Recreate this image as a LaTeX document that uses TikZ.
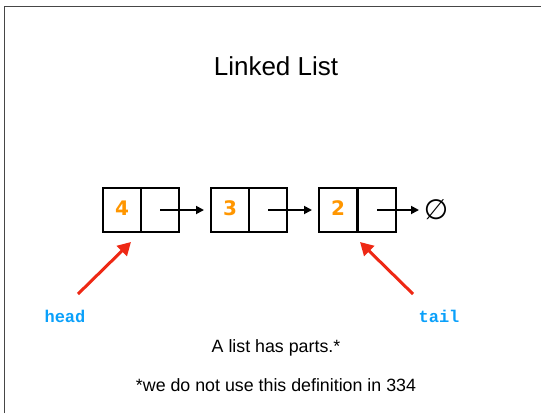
\documentclass[tikz,border=0pt]{standalone}
\usepackage{fontspec}
\setmainfont{Liberation Sans}
\newfontfamily\numfont{DejaVu Sans}
\newfontfamily\codefont{Liberation Mono}
\newfontfamily\symfont{DejaVu Sans}
\usetikzlibrary{arrows.meta}
\definecolor{numorange}{RGB}{255,150,0}
\definecolor{ptrred}{RGB}{238,40,20}
\definecolor{codeblue}{RGB}{10,160,250}
\definecolor{framegray}{RGB}{70,70,70}
\tikzset{
  cell/.style={draw, line width=2pt, minimum width=38pt, minimum height=44pt, inner sep=0pt, outer sep=0pt},
  numtext/.style={font=\numfont\bfseries\fontsize{20}{24}\selectfont, text=numorange},
  link/.style={line width=1.8pt, -{Triangle[length=8pt,width=8pt]}},
  pointer/.style={line width=3pt, ptrred, -{Triangle[length=13pt,width=14pt]}},
  codelabel/.style={font=\codefont\bfseries\fontsize{17}{20}\selectfont, text=codeblue},
  bodytext/.style={font=\fontsize{17.8}{20}\selectfont}
}
\begin{document}
\begin{tikzpicture}[x=1pt, y=-1pt]
\useasboundingbox (0,0) rectangle (541,413);
% slide frame (top and left edges)
\draw[line width=1.5pt, framegray] (4.5,413) -- (4.5,6.5) -- (541,6.5);

% title
\node[font=\fontsize{26}{30}\selectfont] (title) at (276,66) {Linked List};

% list nodes: value cell + next cell
\node[cell] (v1) at (122,210) {};
\node[cell] (p1) at (160,210) {};
\node[cell] (v2) at (230,210) {};
\node[cell] (p2) at (268,210) {};
\node[cell] (v3) at (338,210) {};
\node[cell] (p3) at (377,210) {};
\node[numtext] at ([yshift=2pt]v1.center) {4};
\node[numtext] at ([yshift=2pt]v2.center) {3};
\node[numtext] at ([yshift=2pt]v3.center) {2};

% null terminator
\node[font=\symfont\fontsize{28}{30}\selectfont, inner sep=0pt] (nil) at (436,210) {∅};

% next links
\draw[link, shorten >=7pt] (p1.center) -- (v2.west);
\draw[link, shorten >=7pt] (p2.center) -- (v3.west);
\draw[link] (p3.center) -- (419,210) coordinate (nilin);

% head / tail pointers
\node[codelabel] (head) at (65,316) {head};
\node[codelabel] (tail) at (439,316) {tail};
\coordinate (headstart) at (78,294);
\coordinate (headend) at (131,242);
\coordinate (tailstart) at (413,294);
\coordinate (tailend) at (360,242);
\draw[pointer] (headstart) -- (headend);
\draw[pointer] (tailstart) -- (tailend);

% caption
\node[bodytext] (cap1) at (276,348) {A list has parts.*};
\node[bodytext] (cap2) at (276,385) {*we do not use this definition in 334};
\end{tikzpicture}
\end{document}
